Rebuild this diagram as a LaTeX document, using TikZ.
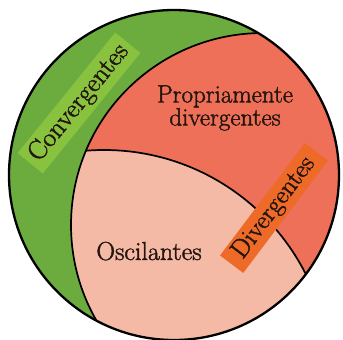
\documentclass[tikz,border=0pt]{standalone}
\usepackage{fontspec}
\newfontfamily\lblfont{Latin Modern Roman}[FakeBold=1.6]
\definecolor{cgreen}{HTML}{6CAC3E}
\definecolor{cgreenlight}{HTML}{88C23E}
\definecolor{cred}{HTML}{EF7058}
\definecolor{cpink}{HTML}{F5BAA6}
\definecolor{corange}{HTML}{EE6A28}
\definecolor{ctext}{HTML}{24160F}
\tikzset{
  lbl/.style={text=ctext, inner sep=0pt},
  border/.style={draw=black, line width=1.7pt},
  outerborder/.style={draw=black, line width=2.3pt}
}
\begin{document}
\begin{tikzpicture}[x=1pt,y=-1pt]
\useasboundingbox (0,0) rectangle (343,340);
\fill[white] (0,0) rectangle (343,340);
\coordinate (O) at (174,175);
\coordinate (C1) at (263,225);
\coordinate (C2) at (104,376);
\fill[cgreen] (O) circle[radius=165pt];
\begin{scope}
  \clip (O) circle[radius=165pt];
  \fill[cred] (C1) circle[radius=192pt];
  \clip (C1) circle[radius=192pt];
  \fill[cpink] (C2) circle[radius=226pt];
  \path[border] (C2) circle[radius=226pt];
\end{scope}
\begin{scope}
  \clip (O) circle[radius=165pt];
  \path[border] (C1) circle[radius=192pt];
\end{scope}
\path[outerborder] (O) circle[radius=165pt];
\node[lbl, font=\lblfont\fontsize{27}{27}\selectfont, fill=cgreenlight, rotate=51, inner xsep=6pt, inner ysep=4pt] (conv) at (79,103) {Convergentes};
\node[lbl, font=\lblfont\fontsize{25}{23}\selectfont, align=center] (prop) at (225,108) {Propriamente\\divergentes};
\node[lbl, font=\lblfont\fontsize{26}{26}\selectfont, anchor=base] (osc) at (149,260) {Oscilantes};
\node[lbl, font=\lblfont\fontsize{26}{26}\selectfont, fill=corange, rotate=53, inner xsep=10pt, inner ysep=3pt] (div) at (274,208) {Divergentes};
\end{tikzpicture}
\end{document}
